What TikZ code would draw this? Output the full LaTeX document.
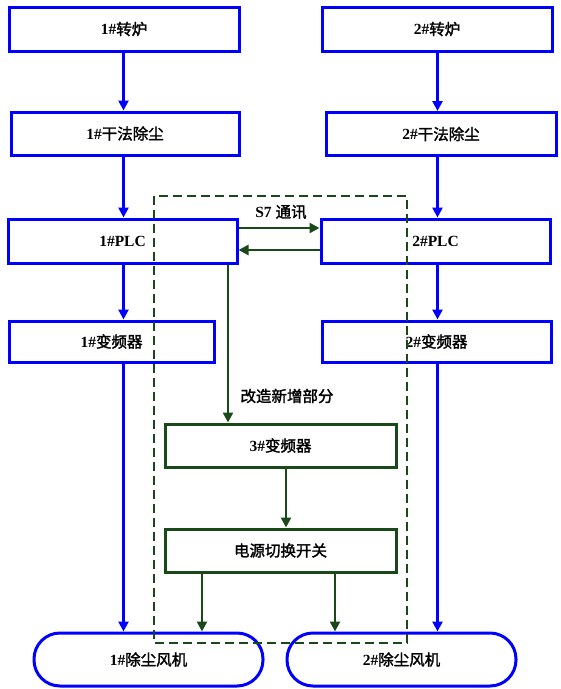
\documentclass[tikz,border=0pt]{standalone}
\usepackage{fontspec}
\setmainfont{Liberation Serif}
\newfontfamily\cjk{Noto Sans CJK SC}[AutoFakeBold=1.8]
\usetikzlibrary{arrows.meta}
\definecolor{bl}{RGB}{0,0,255}
\definecolor{dg}{RGB}{25,72,25}
\newcommand\lbl[2]{{\bfseries #1}{\cjk\bfseries #2}}
\tikzset{
  bbox/.style={draw=bl,line width=3pt,inner sep=0pt,font=\fontsize{15.5}{17}\selectfont},
  gbox/.style={draw=dg,line width=3pt,inner sep=0pt,font=\fontsize{15.5}{17}\selectfont},
  fan/.style={draw=bl,line width=3pt,inner sep=0pt,rounded corners=26pt,font=\fontsize{15.5}{17}\selectfont},
  barr/.style={draw=bl,line width=2.8pt,-{Triangle[length=10pt,width=10pt]}},
  garr/.style={draw=dg,line width=2.8pt,-{Triangle[length=10pt,width=10pt]}},
  dbox/.style={draw=dg,line width=1.8pt,dash pattern=on 9pt off 5pt},
  lab/.style={font=\fontsize{15.5}{17}\selectfont,inner sep=0pt}
}
\begin{document}
\begin{tikzpicture}[x=1pt,y=-1pt]
\useasboundingbox (0,0) rectangle (561,689);
% blue boxes
\node[bbox,minimum width=230pt,minimum height=44pt] (zl1) at (124,29) {\lbl{1\#}{转炉}};
\node[bbox,minimum width=230pt,minimum height=44pt] (zl2) at (437,29) {\lbl{2\#}{转炉}};
\node[bbox,minimum width=228pt,minimum height=43pt] (cc1) at (125,133.5) {\lbl{1\#}{干法除尘}};
\node[bbox,minimum width=230pt,minimum height=43pt] (cc2) at (441,134) {\lbl{2\#}{干法除尘}};
\node[bbox,minimum width=229pt,minimum height=44pt] (plc1) at (122.5,241) {\bfseries 1\#PLC};
\node[bbox,minimum width=229pt,minimum height=44pt] (plc2) at (435.5,241) {\bfseries 2\#PLC};
\node[bbox,minimum width=205pt,minimum height=41pt] (bp1) at (111.5,341.5) {\lbl{1\#}{变频器}};
\node[bbox,minimum width=229pt,minimum height=41pt] (bp2) at (436.5,341.5) {\lbl{2\#}{变频器}};
% green boxes
\node[gbox,minimum width=231pt,minimum height=43pt] (bp3) at (280.5,445.5) {\lbl{3\#}{变频器}};
\node[gbox,minimum width=231pt,minimum height=43pt] (sw) at (280.5,550.5) {\cjk\bfseries 电源切换开关};
% fans
\node[fan,minimum width=229pt,minimum height=53pt] (fan1) at (148.5,659.5) {\lbl{1\#}{除尘风机}};
\node[fan,minimum width=229pt,minimum height=53pt] (fan2) at (401.5,659.5) {\lbl{2\#}{除尘风机}};
% dashed region
\draw[dbox] (154,196) rectangle (407,643);
% helper coordinates
\coordinate (xl) at (123.5,0);
\coordinate (xr) at (437.5,0);
\coordinate (xg) at (228,0);
\coordinate (xm) at (286,0);
\coordinate (xa) at (202,0);
\coordinate (xb) at (335,0);
\coordinate (ya) at (0,228);
\coordinate (yb) at (0,250);
% blue arrows
\draw[barr] (zl1.south -| xl) -- (cc1.north -| xl);
\draw[barr] (cc1.south -| xl) -- (plc1.north -| xl);
\draw[barr] (plc1.south -| xl) -- (bp1.north -| xl);
\draw[barr] (bp1.south -| xl) -- (fan1.north -| xl);
\draw[barr] (zl2.south -| xr) -- (cc2.north -| xr);
\draw[barr] (cc2.south -| xr) -- (plc2.north -| xr);
\draw[barr] (plc2.south -| xr) -- (bp2.north -| xr);
\draw[barr] (bp2.south -| xr) -- (fan2.north -| xr);
% green arrows
\draw[garr] (plc1.east |- ya) -- (plc2.west |- ya);
\draw[garr] (plc2.west |- yb) -- (plc1.east |- yb);
\draw[garr] (plc1.south -| xg) -- (bp3.north -| xg);
\draw[garr] (bp3.south -| xm) -- (sw.north -| xm);
\draw[garr] (sw.south -| xa) -- (fan1.north -| xa);
\draw[garr] (sw.south -| xb) -- (fan2.north -| xb);
% labels
\node[lab] (s7) at (281,212) {\bfseries S7 {\cjk 通讯}};
\node[lab] (gz) at (287,396) {\cjk\bfseries 改造新增部分};
\end{tikzpicture}
\end{document}
